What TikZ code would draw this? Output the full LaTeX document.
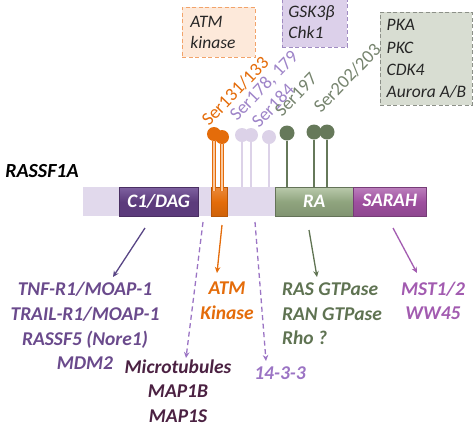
\documentclass[tikz,border=0pt]{standalone}
\usepackage{fontspec}
\setmainfont{Carlito}
\usetikzlibrary{arrows.meta}
\definecolor{orangec}{HTML}{E46C0A}
\definecolor{orangelt}{HTML}{F9C9A0}
\definecolor{peach}{HTML}{FDE9DA}
\definecolor{peachline}{HTML}{F2A36A}
\definecolor{lav}{HTML}{DCD2E8}
\definecolor{lavbox}{HTML}{DCD0EA}
\definecolor{lavline}{HTML}{A08BC2}
\definecolor{gbox}{HTML}{D8DDD2}
\definecolor{gline}{HTML}{8C9088}
\definecolor{barlight}{HTML}{E1D9EC}
\definecolor{c1col}{HTML}{5C3B7C}
\definecolor{c1top}{HTML}{7E61A0}
\definecolor{racol}{HTML}{8FA47E}
\definecolor{ratop}{HTML}{B9C9AB}
\definecolor{sarcol}{HTML}{9E509F}
\definecolor{sartop}{HTML}{BC7FBD}
\definecolor{greenc}{HTML}{5F7352}
\definecolor{greenhead}{HTML}{66795A}
\definecolor{serpur}{HTML}{9E84C8}
\definecolor{sergr}{HTML}{76846E}
\definecolor{tnfc}{HTML}{6A4A8C}
\definecolor{arr1c}{HTML}{584585}
\definecolor{microc}{HTML}{4B2142}
\definecolor{dashc}{HTML}{9B74C4}
\definecolor{mstc}{HTML}{A25BB0}
\begin{document}
\begin{tikzpicture}[x=1pt,y=-1pt,
  bx/.style={dash pattern=on 4pt off 2.5pt, line width=0.9pt, inner xsep=8pt, inner ysep=0pt, align=left, anchor=north west, font=\itshape\fontsize{17.5}{21}\selectfont, text=black!85},
  dom/.style={minimum height=29pt, inner sep=0pt, anchor=north west, font=\bfseries\itshape\fontsize{19}{22}\selectfont, text=white},
  lab/.style={font=\bfseries\itshape\fontsize{19.5}{24.6}\selectfont, align=center, inner sep=0pt},
  ser/.style={rotate=46, anchor=base west, font=\fontsize{18.5}{20}\selectfont, inner sep=0pt},
  head/.style={circle, minimum size=14pt, inner sep=0pt},
  arr/.style={-{Stealth[length=6pt,width=5.5pt]}, line width=1.3pt},
  darr/.style={-{Stealth[length=6pt,width=5.5pt]}, line width=1.3pt, dash pattern=on 5pt off 3.5pt},
]
\useasboundingbox (0,0) rectangle (474,424);

% kinase boxes
\node[bx, draw=peachline, fill=peach, text width=57pt, minimum height=50pt] (atmbox) at (182,7) {ATM\\kinase};
\node[bx, draw=lavline, fill=lavbox, text width=53pt, minimum height=50pt, inner xsep=6pt] (gskbox) at (282,-3) {GSK3β\\Chk1};
\node[bx, draw=gline, fill=gbox, minimum width=92pt, minimum height=93pt, inner xsep=6pt, font=\itshape\fontsize{17.5}{22.3}\selectfont] (pkabox) at (380,12) {PKA\\PKC\\CDK4\\Aurora A/B};

% protein bar
\node[fill=barlight, minimum width=343pt, minimum height=29pt, inner sep=0pt, anchor=north west] (bar) at (83,187) {};
\node[dom, top color=c1top, bottom color=c1col, middle color=c1col, draw=c1col!80!black, line width=0.5pt, minimum width=79pt] (c1) at (119,187) {C1/DAG};
\node[dom, top color=orangec!80!white, bottom color=orangec!90!black, middle color=orangec, draw=orangec!80!black, line width=0.5pt, minimum width=16pt] (ob) at (211,187) {};
\node[dom, top color=ratop, bottom color=racol!90!black, middle color=racol, draw=racol!70!black, line width=0.5pt, minimum width=78pt] (ra) at (275,187) {RA};
\node[dom, top color=sartop, bottom color=sarcol!90!black, middle color=sarcol, draw=sarcol!75!black, line width=0.5pt, minimum width=73pt] (sarah) at (353,187) {\raisebox{2pt}{SARAH}};

\node[font=\bfseries\itshape\fontsize{20}{22}\selectfont, inner sep=0pt] (name) at (42,171) {RASSF1A};

% lollipops
\node[head, fill=lav] (l1) at (242,135) {};
\node[head, fill=lav] (l2) at (251,135) {};
\node[head, fill=lav] (l3) at (269,137) {};
\draw[lav, line width=1.6pt] (l1) -- (l1 |- bar.north);
\draw[lav, line width=1.6pt] (l2) -- (l2 |- bar.north);
\draw[lav, line width=1.6pt] (l3) -- (l3 |- bar.north);

\node[head, fill=orangec] (o1) at (214,134) {};
\node[head, fill=orangec] (o2) at (222,137) {};
\draw[orangec, line width=0.9pt, double=orangelt, double distance=1.3pt] (o1) -- ([yshift=-4pt]o1 |- ob.north);
\draw[orangec, line width=0.9pt, double=orangelt, double distance=1.3pt] (o2) -- ([yshift=-4pt]o2 |- ob.north);

\node[head, fill=greenhead, minimum size=15pt] (g1) at (287,133) {};
\node[head, fill=greenhead, minimum size=15pt] (g2) at (314,132) {};
\node[head, fill=greenhead, minimum size=15pt] (g3) at (327,132) {};
\draw[greenhead, line width=1.6pt] (g1) -- (g1 |- ra.north);
\draw[greenhead, line width=1.6pt] (g2) -- (g2 |- ra.north);
\draw[greenhead, line width=1.6pt] (g3) -- (g3 |- ra.north);

% phosphosite labels
\node[ser, text=orangec] (s1) at (209,127) {Ser131/133};
\node[ser, text=serpur] (s2) at (237,122) {Ser178, 179};
\node[ser, text=serpur] (s3) at (259,129) {Ser184};
\node[ser, text=sergr] (s4) at (282,118) {Ser197};
\node[ser, text=sergr] (s5) at (321,114) {Ser202/203};

% interaction partners
\node[lab, text=tnfc] (tnf) at (85,326) {TNF-R1/MOAP-1\\TRAIL-R1/MOAP-1\\RASSF5 (Nore1)\\MDM2};
\node[lab, text=orangec] (atm) at (227,301) {ATM\\Kinase};
\node[lab, text=microc] (micro) at (178,391) {Microtubules\\MAP1B\\MAP1S};
\node[lab, text=dashc] (p1433) at (280,373) {14-3-3};
\node[lab, text=greenc, align=left, anchor=west] (ras) at (282,314) {RAS GTPase\\RAN GTPase\\Rho ?};
\node[lab, text=mstc] (mst) at (433,301) {MST1/2\\WW45};

% arrows
\coordinate (a1s) at (145,228); \coordinate (a1e) at (113,277);
\coordinate (a2s) at (222,225); \coordinate (a2e) at (217,273);
\coordinate (a3s) at (309,230); \coordinate (a3e) at (317,277);
\coordinate (a4s) at (393,228); \coordinate (a4e) at (417,273);
\coordinate (d1s) at (203,222); \coordinate (d1e) at (186,358);
\coordinate (d2s) at (255,222); \coordinate (d2e) at (266,361);
\draw[arr, arr1c] (a1s) -- (a1e);
\draw[arr, orangec] (a2s) -- (a2e);
\draw[arr, greenc] (a3s) -- (a3e);
\draw[arr, mstc] (a4s) -- (a4e);
\draw[darr, dashc] (d1s) -- (d1e);
\draw[darr, dashc] (d2s) -- (d2e);
\end{tikzpicture}
\end{document}
